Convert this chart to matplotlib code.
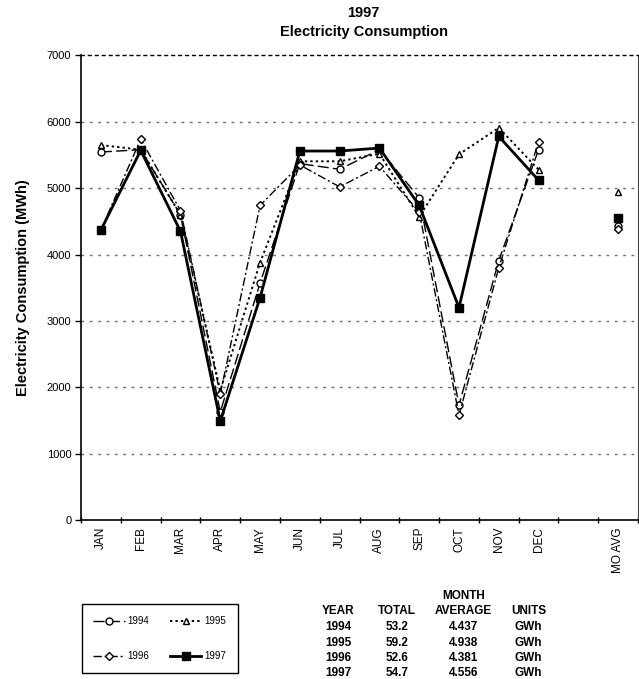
import matplotlib
matplotlib.use("Agg")
import matplotlib.pyplot as plt
from matplotlib.lines import Line2D

plt.rcParams["font.family"] = ["Liberation Sans", "DejaVu Sans"]

months = ["JAN", "FEB", "MAR", "APR", "MAY", "JUN",
          "JUL", "AUG", "SEP", "OCT", "NOV", "DEC"]
tick_labels = months + ["", "MO AVG"]

# monthly consumption, MWh
use_1994 = [5545, 5580, 4600, 1630, 3570, 5370, 5285, 5580, 4855, 1730, 3910, 5580]
use_1995 = [5650, 5580, 4600, 1950, 3880, 5405, 5405, 5520, 4570, 5510, 5910, 5280]
use_1996 = [4370, 5740, 4660, 1900, 4740, 5350, 5020, 5330, 4640, 1580, 3800, 5700]
use_1997 = [4370, 5570, 4350, 1490, 3350, 5560, 5560, 5605, 4740, 3200, 5780, 5120]

years = ["1994", "1995", "1996", "1997"]
totals = ["53.2", "59.2", "52.6", "54.7"]
month_avg = [4.437, 4.938, 4.381, 4.556]
units = ["GWh", "GWh", "GWh", "GWh"]

styles = {
    "1994": dict(marker="o", mfc="white", mec="black", color="black",
                 dashes=(8, 3), lw=1.0, ms=5),
    "1995": dict(marker="^", mfc="white", mec="black", color="black",
                 dashes=(1.2, 1.6), lw=1.4, ms=5),
    "1996": dict(marker="D", mfc="white", mec="black", color="black",
                 dashes=(6, 2, 1.5, 2), lw=1.0, ms=4),
    "1997": dict(marker="s", mfc="black", mec="black", color="black",
                 lw=2.0, ms=5.5),
}
series = {"1994": use_1994, "1995": use_1995, "1996": use_1996, "1997": use_1997}

fig = plt.figure(figsize=(6.39, 6.79), dpi=100)
ax = fig.add_axes([0.1268, 0.2342, 0.8717, 0.6841])

x = list(range(12))
avg_x = 13
for yr in years:
    ax.plot(x, series[yr], **styles[yr])
    st = {k: v for k, v in styles[yr].items() if k not in ("dashes", "lw")}
    ax.plot([avg_x], [month_avg[years.index(yr)] * 1000], ls="none", **st)

ax.set_xlim(-0.5, 13.5)
ax.set_ylim(0, 7000)

# boundary ticks between categories, labels centred on each category
ax.set_xticks([i - 0.5 for i in range(15)])
ax.set_xticklabels([])
ax.set_xticks(range(14), minor=True)
ax.set_xticklabels(tick_labels, minor=True, rotation=90, fontsize=8.5)
ax.tick_params(axis="x", which="minor", length=0, pad=5)
ax.tick_params(axis="x", which="major", length=4, direction="inout", width=1)

ax.set_yticks(range(0, 7001, 1000))
ax.tick_params(axis="y", length=4, width=1, labelsize=8, pad=3)

for y in range(1000, 7000, 1000):
    ax.axhline(y, color="#707070", lw=1, dashes=(2, 4), zorder=0)

ax.spines["top"].set_linestyle((0, (2, 3)))
ax.spines["top"].set_linewidth(1)
ax.spines["right"].set_color("#404040")
ax.spines["left"].set_linewidth(1.2)
ax.spines["bottom"].set_linewidth(1.2)

ax.set_ylabel("Electricity Consumption (MWh)", fontsize=10.5,
              fontweight="bold", labelpad=12)

fig.text(0.569, 0.981, "1997", ha="center", va="center",
         fontsize=10.5, fontweight="bold")
fig.text(0.569, 0.953, "Electricity Consumption", ha="center", va="center",
         fontsize=10.5, fontweight="bold")

# legend
handles = []
for yr in ["1994", "1996", "1995", "1997"]:
    handles.append(Line2D([], [], label=yr, **styles[yr]))
fig.legend(handles=handles, loc="lower left", ncol=2,
           bbox_to_anchor=(0.128, 0.009, 0.244, 0.101), mode="expand",
           borderaxespad=0, fontsize=7, fancybox=False, edgecolor="black",
           framealpha=1, handlelength=3.2, handletextpad=0.3,
           labelspacing=2.6, columnspacing=1.0, borderpad=1.2)

# summary table
cols = [0.529, 0.621, 0.725, 0.827]
row_h = 15.3 / 679
y0 = 1 - 627.4 / 679
fig.text(cols[2], 1 - 596 / 679, "MONTH", ha="center", va="center",
         fontsize=8.5, fontweight="bold")
for cx, h in zip(cols, ["YEAR", "TOTAL", "AVERAGE", "UNITS"]):
    fig.text(cx, 1 - 611.5 / 679, h, ha="center", va="center",
             fontsize=8.5, fontweight="bold")
for i in range(4):
    row = [years[i], totals[i], f"{month_avg[i]:.3f}", units[i]]
    for cx, val in zip(cols, row):
        fig.text(cx, y0 - i * row_h, val, ha="center", va="center",
                 fontsize=8.5, fontweight="bold")

fig.savefig("out.png", dpi=100)
